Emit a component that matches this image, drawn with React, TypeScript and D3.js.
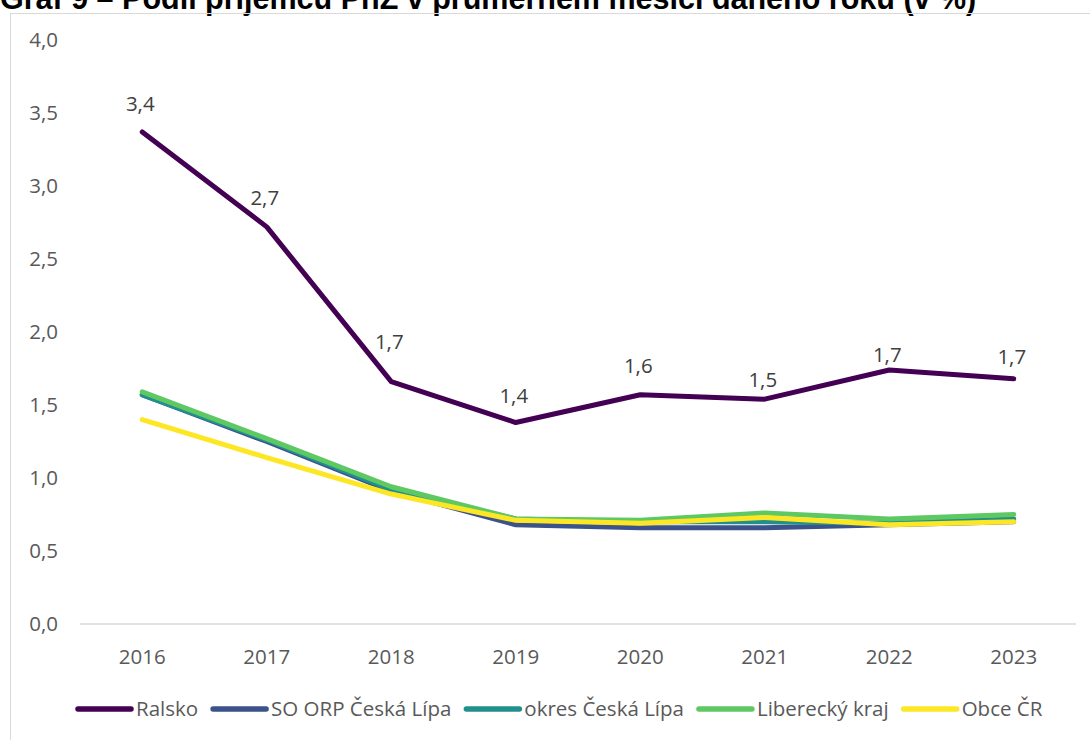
import React, { useEffect, useRef } from "react";
import * as d3 from "d3";

const years = ["2016", "2017", "2018", "2019", "2020", "2021", "2022", "2023"];
const ralsko = [3.37, 2.72, 1.66, 1.38, 1.57, 1.54, 1.74, 1.68];
const soOrp = [1.57, 1.25, 0.91, 0.68, 0.66, 0.66, 0.68, 0.7];
const okres = [1.57, 1.26, 0.92, 0.72, 0.7, 0.7, 0.69, 0.72];
const liberecky = [1.59, 1.27, 0.94, 0.72, 0.71, 0.76, 0.72, 0.75];
const obceCR = [1.4, 1.14, 0.89, 0.71, 0.69, 0.73, 0.68, 0.7];
const yTicks = [0, 0.5, 1, 1.5, 2, 2.5, 3, 3.5, 4];
const seriesNames = ["Ralsko", "SO ORP Česká Lípa", "okres Česká Lípa", "Liberecký kraj", "Obce ČR"];
const title = "Graf 9 – Podíl příjemců PnŽ v průměrném měsíci daného roku (v %)";

// layout: vertical gap (px) between Ralsko data label baseline and the point
const labelGaps = [21, 22, 33, 20, 22, 12, 8, 15];
const colors = ["#440154", "#3b528b", "#21908d", "#5ec962", "#fde725"];

const W = 1090;
const H = 740;
const FS = 20.5;

export default function App() {
  const legendRef = useRef<SVGGElement>(null);

  const x = d3.scaleBand<string>().domain(years).range([80, 1076]);
  const y = d3.scaleLinear().domain([0, 4]).range([624, 40]);
  const cx = (d: string) => (x(d) as number) + x.bandwidth() / 2;
  const fmt = (v: number) => d3.format(".1f")(v).replace(".", ",");

  const allSeries = [ralsko, soOrp, okres, liberecky, obceCR];
  const line = d3
    .line<number>()
    .x((_, i) => cx(years[i]))
    .y((v) => y(v));

  useEffect(() => {
    const g = d3.select(legendRef.current);
    g.selectAll("*").remove();
    let pos = 0;
    seriesNames.forEach((name, i) => {
      const item = g.append("g").attr("transform", `translate(${pos},0)`);
      item
        .append("line")
        .attr("x1", 3)
        .attr("x2", 56)
        .attr("y1", 0)
        .attr("y2", 0)
        .attr("stroke", colors[i])
        .attr("stroke-width", 5.5)
        .attr("stroke-linecap", "round");
      const t = item
        .append("text")
        .attr("x", 61)
        .attr("y", 0)
        .attr("dy", "0.35em")
        .attr("fill", "#595959")
        .attr("font-size", FS)
        .attr("font-family", "'Open Sans', sans-serif")
        .text(name);
      const w = (t.node() as SVGTextElement).getComputedTextLength();
      pos += 61 + w + 12;
    });
  }, []);

  return (
    <svg
      width={W}
      height={H}
      style={{ position: "absolute", left: 0, top: 0, background: "#fff" }}
      fontFamily="'Open Sans', sans-serif"
    >
      <text x={0} y={9} fontFamily="'Liberation Sans', Arial, sans-serif" fontWeight="bold" fontSize={30.5} fill="#000">
        {title}
      </text>
      <rect x={10.5} y={13.5} width={1200} height={800} fill="none" stroke="#d9d9d9" strokeWidth={1} />

      {yTicks.map((t) => (
        <text key={t} x={58} y={y(t)} dy="0.35em" textAnchor="end" fontSize={FS} fill="#595959">
          {fmt(t)}
        </text>
      ))}

      <line x1={80} x2={1076} y1={y(0)} y2={y(0)} stroke="#d9d9d9" strokeWidth={1.5} />
      {years.map((yr) => (
        <text key={yr} x={cx(yr)} y={657} dy="0.35em" textAnchor="middle" fontSize={FS} fill="#595959">
          {yr}
        </text>
      ))}

      {allSeries.map((s, i) => (
        <path
          key={i}
          d={line(s) as string}
          fill="none"
          stroke={colors[i]}
          strokeWidth={5}
          strokeLinejoin="round"
          strokeLinecap="round"
        />
      ))}

      {ralsko.map((v, i) => (
        <text
          key={i}
          x={cx(years[i]) - 2}
          y={y(v) - labelGaps[i]}
          textAnchor="middle"
          fontSize={FS}
          fill="#404040"
        >
          {fmt(v)}
        </text>
      ))}

      <g ref={legendRef} transform="translate(75,709)" />
    </svg>
  );
}
